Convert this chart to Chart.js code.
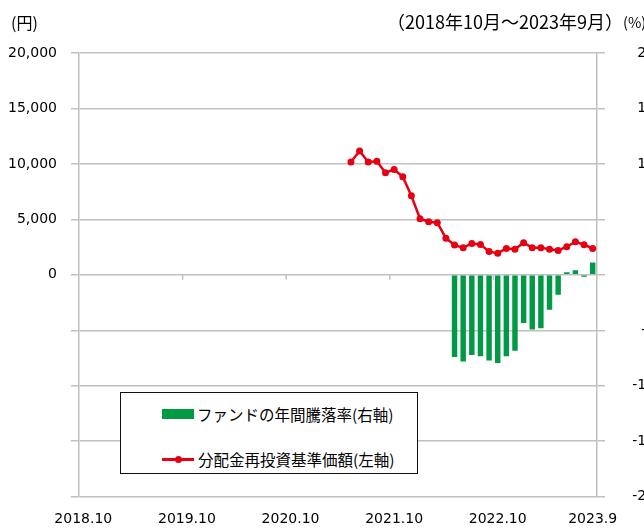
<!DOCTYPE html>
<html>
<head>
<meta charset="utf-8">
<script src="https://cdn.jsdelivr.net/npm/chart.js@4.4.1/dist/chart.umd.min.js"></script>
<style>
  html, body { margin: 0; padding: 0; background: #fff; }
  #wrap { position: relative; width: 644px; height: 528px; overflow: hidden; }
  canvas { position: absolute; left: 0; top: 0; }
  .t { position: absolute; font-family: "Noto Sans CJK JP", sans-serif; font-size: 16px; line-height: 16px; color: #000; white-space: nowrap; }
  #legend { position: absolute; left: 120px; top: 392px; width: 296px; height: 80px; border: 1px solid #111; background: #fff; }
  .lg { position: absolute; font-family: "Noto Sans CJK JP", sans-serif; font-size: 15.5px; line-height: 16px; color: #000; white-space: nowrap; }
  .sw { position: absolute; }
</style>
</head>
<body>
<div id="wrap">
  <canvas id="c" width="664" height="528"></canvas>
  <div class="t" style="left:11px; top:14px;">(円)</div>
  <div class="t" style="left:387px; top:12px; font-size:18px; line-height:18px;">（2018年10月～2023年9月）</div>
  <div class="t" style="left:623px; top:14px; font-size:14.5px; line-height:15px;">(%)</div>
  <div id="legend">
    <div class="sw" style="left:41px; top:16px; width:32px; height:10px; background:#009944;"></div>
    <div class="lg" style="left:76px; top:13px;">ファンドの年間騰落率(右軸)</div>
    <div class="sw" style="left:41px; top:65px; width:32px; height:2.5px; background:#e60012;"></div>
    <div class="sw" style="left:54px; top:63px; width:7px; height:7px; border-radius:50%; background:#e60012;"></div>
    <div class="lg" style="left:77px; top:58px;">分配金再投資基準価額(左軸)</div>
  </div>
</div>
<script>
// Categories: monthly, 2018.10 – 2023.9
const months = [
  "2018.10","2018.11","2018.12","2019.1","2019.2","2019.3","2019.4","2019.5","2019.6","2019.7","2019.8","2019.9",
  "2019.10","2019.11","2019.12","2020.1","2020.2","2020.3","2020.4","2020.5","2020.6","2020.7","2020.8","2020.9",
  "2020.10","2020.11","2020.12","2021.1","2021.2","2021.3","2021.4","2021.5","2021.6","2021.7","2021.8","2021.9",
  "2021.10","2021.11","2021.12","2022.1","2022.2","2022.3","2022.4","2022.5","2022.6","2022.7","2022.8","2022.9",
  "2022.10","2022.11","2022.12","2023.1","2023.2","2023.3","2023.4","2023.5","2023.6","2023.7","2023.8","2023.9"
];
// Labels shown on the x axis
const shownLabels = ["2018.10","2019.10","2020.10","2021.10","2022.10","2023.9"];

// 分配金再投資基準価額 (円, left axis)
const navValues = [
  null,null,null,null,null,null,null,null,null,null,null,null,
  null,null,null,null,null,null,null,null,null,null,null,null,
  null,null,null,null,null,null,null,10180,11160,10180,10240,9200,
  9500,8840,7120,5060,4790,4700,3300,2680,2450,2830,2740,2090,
  1940,2380,2300,2890,2450,2450,2300,2200,2530,2980,2710,2380
];
// ファンドの年間騰落率 (%, right axis)
const returnValues = [
  null,null,null,null,null,null,null,null,null,null,null,null,
  null,null,null,null,null,null,null,null,null,null,null,null,
  null,null,null,null,null,null,null,null,null,null,null,null,
  null,null,null,null,null,null,null,-74.1,-78.2,-72.3,-73.5,-77.3,
  -79.5,-73.5,-68.4,-43.4,-49.4,-48.2,-31.5,-18.1,2.4,4.2,-1.8,11.1
];
// Axis tick settings
const leftTicks = { min: -20000, max: 20000, step: 5000 };
const rightTicks = { min: -200, max: 200, step: 50 };

const GRID = '#c0c0c0';
const tickFont = { family: 'DejaVu Sans', size: 14 };

// small tick marks on the zero line at year boundaries
const zeroTicks = {
  id: 'zeroTicks',
  afterDatasetsDraw(chart) {
    const x = chart.scales.x, y = chart.scales.y;
    const ctx = chart.ctx;
    const y0 = y.getPixelForValue(0);
    ctx.save();
    ctx.strokeStyle = GRID;
    ctx.lineWidth = 1.5;
    months.forEach((m, i) => {
      if (i > 0 && shownLabels.includes(m) && i < months.length - 1) {
        const px = (x.getPixelForValue(i - 1) + x.getPixelForValue(i)) / 2;
        ctx.beginPath();
        ctx.moveTo(px, y0);
        ctx.lineTo(px, y0 + 5);
        ctx.stroke();
      }
    });
    ctx.restore();
  }
};

new Chart(document.getElementById('c'), {
  data: {
    labels: months,
    datasets: [
      {
        type: 'line',
        label: '分配金再投資基準価額(左軸)',
        data: navValues,
        yAxisID: 'y',
        borderColor: '#e60012',
        backgroundColor: '#e60012',
        borderWidth: 2.5,
        pointRadius: 3.5,
        pointBorderWidth: 0,
        pointBackgroundColor: '#e60012',
        spanGaps: false,
        tension: 0,
        order: 0
      },
      {
        type: 'bar',
        label: 'ファンドの年間騰落率(右軸)',
        data: returnValues,
        yAxisID: 'y1',
        backgroundColor: '#009944',
        barPercentage: 0.63,
        categoryPercentage: 1.0,
        order: 1
      }
    ]
  },
  options: {
    responsive: false,
    animation: false,
    layout: { padding: { top: 53, left: 0, right: 0, bottom: 0 } },
    plugins: { legend: { display: false }, tooltip: { enabled: false } },
    scales: {
      x: {
        type: 'category',
        offset: true,
        grid: { display: false, drawTicks: false },
        border: { display: false },
        ticks: {
          autoSkip: false,
          maxRotation: 0,
          minRotation: 0,
          padding: 14,
          color: '#000',
          font: tickFont,
          callback: function (v, i) {
            const l = months[i];
            return shownLabels.includes(l) ? l : '';
          }
        },
        afterFit(s) { s.height = 28.5; }
      },
      y: {
        position: 'left',
        min: leftTicks.min,
        max: leftTicks.max,
        grid: { color: GRID, lineWidth: 1.5, tickLength: 8, drawTicks: true },
        border: { display: true, color: GRID, width: 1.5 },
        ticks: {
          stepSize: leftTicks.step,
          padding: 14,
          color: '#000',
          font: tickFont,
          callback: v => v >= 0 ? v.toLocaleString('en-US') : ''
        },
        afterFit(s) { s.width = 79; }
      },
      y1: {
        position: 'right',
        min: rightTicks.min,
        max: rightTicks.max,
        grid: { drawOnChartArea: false, color: GRID, lineWidth: 1.5, tickLength: 8 },
        border: { display: true, color: GRID, width: 1.5 },
        ticks: {
          stepSize: rightTicks.step,
          padding: 23,
          crossAlign: 'far',
          color: '#000',
          font: tickFont
        },
        afterFit(s) { s.width = 67; }
      }
    }
  },
  plugins: [zeroTicks]
});
</script>
</body>
</html>
